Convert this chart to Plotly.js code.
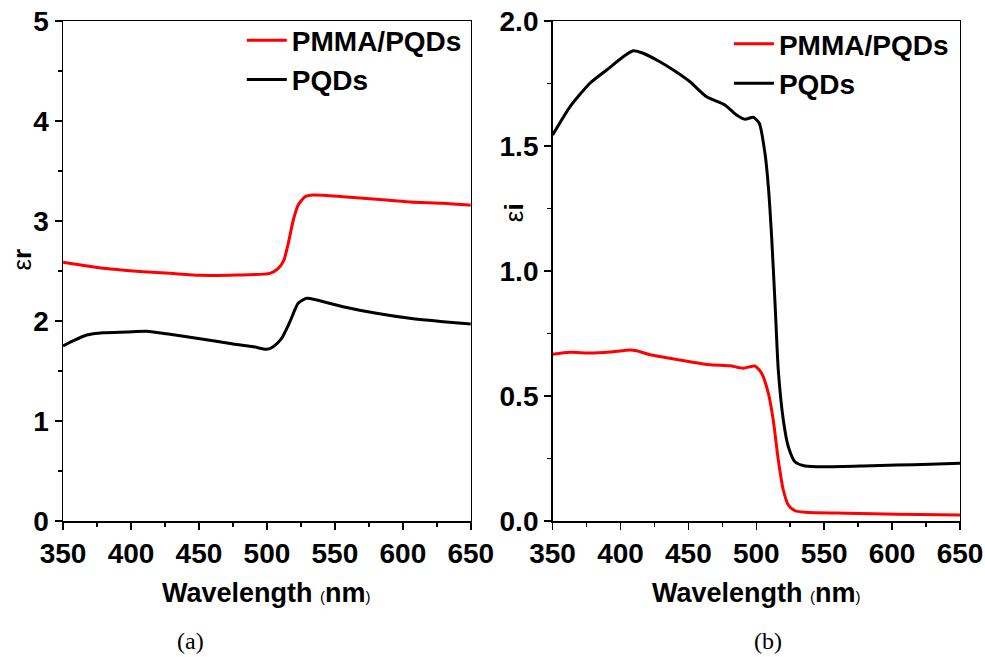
<!DOCTYPE html>
<html>
<head>
<meta charset="utf-8">
<script src="https://cdn.plot.ly/plotly-3.0.1.min.js"></script>
<style>html,body{margin:0;padding:0;background:#fff;}#chart{width:985px;height:657px;}</style>
</head>
<body>
<div id="chart"></div>
<script>
// Panel (a): real part of permittivity
const wlA_pmma = [350, 379.6, 409, 428.7, 450.7, 477.7, 502.2, 508.3, 512.5, 515.7, 519.4, 523, 528, 534, 556, 580.6, 605, 629.6, 650];
const erA_pmma = [2.587, 2.527, 2.493, 2.477, 2.457, 2.46, 2.477, 2.527, 2.61, 2.777, 3.01, 3.16, 3.243, 3.26, 3.243, 3.217, 3.19, 3.177, 3.157];
const wlA_pqd = [350, 357.6, 367.4, 379.6, 396.8, 411.5, 428.7, 450.7, 475.2, 490, 499.8, 504.6, 510.8, 516.9, 523, 529.2, 536.5, 556, 580.6, 605, 629.6, 650];
const erA_pqd = [1.75, 1.803, 1.86, 1.883, 1.89, 1.897, 1.867, 1.823, 1.77, 1.743, 1.717, 1.743, 1.827, 1.993, 2.177, 2.227, 2.21, 2.143, 2.077, 2.027, 1.993, 1.97];

// Panel (b): imaginary part of permittivity
const wlB_pmma = [350, 362.8, 377.5, 392.2, 407, 411.9, 421.7, 434, 451.2, 465.9, 480.6, 490.4, 499, 503.9, 508.9, 512.5, 516.2, 519.9, 523.6, 528.5, 535.9, 566.5, 603.4, 650];
const eiB_pmma = [0.667, 0.675, 0.672, 0.676, 0.684, 0.681, 0.665, 0.653, 0.637, 0.625, 0.621, 0.611, 0.62, 0.591, 0.511, 0.404, 0.244, 0.124, 0.064, 0.041, 0.035, 0.031, 0.027, 0.024];
const wlB_pqd = [350, 362.8, 377.5, 389.8, 402, 409.4, 416.8, 429, 438.9, 451.2, 463.4, 476.9, 485.5, 491.7, 497.8, 502.2, 506.4, 508.9, 511.3, 513.8, 516.2, 519.9, 523.6, 528.5, 535.9, 551.8, 578.8, 603.4, 627.9, 650];
const eiB_pqd = [1.544, 1.657, 1.751, 1.804, 1.857, 1.881, 1.871, 1.837, 1.804, 1.757, 1.697, 1.664, 1.624, 1.607, 1.615, 1.591, 1.471, 1.337, 1.137, 0.871, 0.604, 0.404, 0.297, 0.237, 0.22, 0.217, 0.22, 0.224, 0.227, 0.231];

const seriesNames = ['PMMA/PQDs', 'PQDs'];
const seriesColors = ['#ff0000', '#000000'];
const xTitle = 'Wavelength';
const xUnit = 'nm';
const captions = ['(a)', '(b)'];

const FONT = 'Arial, "Liberation Sans", sans-serif';
const SERIF = '"Liberation Serif", "DejaVu Serif", serif';
const lineOpts = (c) => ({color: c, width: 3, shape: 'spline', smoothing: 0.6});

const traces = [
  {x: wlA_pmma, y: erA_pmma, name: seriesNames[0], mode: 'lines', line: lineOpts(seriesColors[0]), xaxis: 'x', yaxis: 'y', legend: 'legend'},
  {x: wlA_pqd, y: erA_pqd, name: seriesNames[1], mode: 'lines', line: lineOpts(seriesColors[1]), xaxis: 'x', yaxis: 'y', legend: 'legend'},
  {x: wlB_pmma, y: eiB_pmma, name: seriesNames[0], mode: 'lines', line: lineOpts(seriesColors[0]), xaxis: 'x2', yaxis: 'y2', legend: 'legend2'},
  {x: wlB_pqd, y: eiB_pqd, name: seriesNames[1], mode: 'lines', line: lineOpts(seriesColors[1]), xaxis: 'x2', yaxis: 'y2', legend: 'legend2'}
];

const tickFont = {family: FONT, size: 28, color: '#000', weight: 'bold'};
function xAxis(dom, anchor) {
  return {domain: dom, anchor: anchor, range: [350, 650], tickmode: 'linear', tick0: 350, dtick: 50,
    ticks: 'outside', ticklen: 7, tickwidth: 1.5, tickcolor: '#000',
    minor: {dtick: 25, ticks: 'outside', ticklen: 4, tickwidth: 1.5, tickcolor: '#000'},
    showline: true, mirror: true, linecolor: '#000', linewidth: 1.5, showgrid: false, zeroline: false,
    tickfont: tickFont, fixedrange: true};
}
function yAxis(anchor, range, dtick, minorDtick, fmt) {
  return {domain: [0.207, 0.968], anchor: anchor, range: range, tickmode: 'linear', tick0: 0, dtick: dtick,
    tickformat: fmt,
    ticks: 'outside', ticklen: 7, tickwidth: 1.5, tickcolor: '#000',
    minor: {dtick: minorDtick, ticks: 'outside', ticklen: 4, tickwidth: 1.5, tickcolor: '#000'},
    showline: true, mirror: true, linecolor: '#000', linewidth: 1.5, showgrid: false, zeroline: false,
    tickfont: tickFont, fixedrange: true};
}

const legendFont = {family: FONT, size: 28, color: '#000', weight: 'bold'};
const xTitleText = '<b>' + xTitle + ' </b><span style="font-size:15px">(</span><b>' + xUnit + '</b><span style="font-size:15px">)</span>';
const ann = (text, x, y, font, extra) => Object.assign({text: text, xref: 'paper', yref: 'paper', x: x, y: y,
  xanchor: 'center', yanchor: 'middle', showarrow: false, font: font}, extra || {});

const layout = {
  width: 985, height: 657,
  margin: {l: 0, r: 0, t: 0, b: 0},
  paper_bgcolor: '#fff', plot_bgcolor: '#fff',
  font: {family: FONT, color: '#000'},
  xaxis: xAxis([0.064, 0.478], 'y'),
  yaxis: yAxis('x', [0, 5], 1, 0.5, 'd'),
  xaxis2: xAxis([0.561, 0.9746], 'y2'),
  yaxis2: yAxis('x2', [0, 2], 0.5, 0.25, '.1f'),
  legend: {x: 0.2455, y: 0.9765, xanchor: 'left', yanchor: 'top', bgcolor: 'rgba(0,0,0,0)', font: legendFont, itemwidth: 40, tracegroupgap: 0},
  legend2: {x: 0.740, y: 0.971, xanchor: 'left', yanchor: 'top', bgcolor: 'rgba(0,0,0,0)', font: legendFont, itemwidth: 40, tracegroupgap: 0},
  annotations: [
    ann('ε<b>r</b>', 0.0223, 0.605, {family: FONT, size: 26, color: '#000'}, {textangle: -90}),
    ann('ε<b>i</b>', 0.5218, 0.677, {family: FONT, size: 26, color: '#000'}, {textangle: -90}),
    ann(xTitleText, 0.271, 0.0974, {family: FONT, size: 27, color: '#000'}),
    ann(xTitleText, 0.768, 0.0974, {family: FONT, size: 27, color: '#000'}),
    ann(captions[0], 0.193, 0.024, {family: SERIF, size: 24, color: '#000'}),
    ann(captions[1], 0.780, 0.024, {family: SERIF, size: 24, color: '#000'})
  ]
};

Plotly.newPlot('chart', traces, layout, {displayModeBar: false, staticPlot: true});
</script>
</body>
</html>
